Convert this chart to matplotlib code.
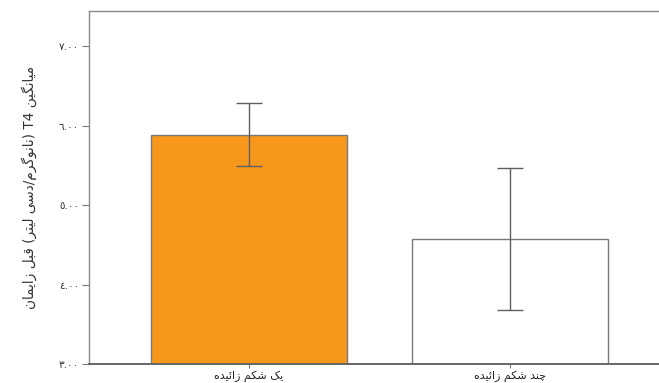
import matplotlib
matplotlib.use("Agg")
import matplotlib.pyplot as plt
import numpy as np

# --- data ---
groups = ["یک شکم زائیده", "چند شکم زائیده"]
means = [5.89, 4.576]
err = [0.40, 0.896]
bar_colors = ["#F7981D", "#FFFFFF"]
yticks = [3, 4, 5, 6, 7]
ytick_labels = ["٣.٠٠", "٤.٠٠", "٥.٠٠", "٦.٠٠", "٧.٠٠"]
ylabel = "میانگین T4 (نانوگرم/دسی لیتر) قبل زایمان"

# presentation forms: isolated, final, initial, medial (None = no left join)
FORMS = {
    "ا": ("\uFE8D", "\uFE8E", None, None),
    "ب": ("\uFE8F", "\uFE90", "\uFE91", "\uFE92"),
    "ت": ("\uFE95", "\uFE96", "\uFE97", "\uFE98"),
    "د": ("\uFEA9", "\uFEAA", None, None),
    "ر": ("\uFEAD", "\uFEAE", None, None),
    "ز": ("\uFEAF", "\uFEB0", None, None),
    "س": ("\uFEB1", "\uFEB2", "\uFEB3", "\uFEB4"),
    "ش": ("\uFEB5", "\uFEB6", "\uFEB7", "\uFEB8"),
    "ق": ("\uFED5", "\uFED6", "\uFED7", "\uFED8"),
    "ل": ("\uFEDD", "\uFEDE", "\uFEDF", "\uFEE0"),
    "م": ("\uFEE1", "\uFEE2", "\uFEE3", "\uFEE4"),
    "ن": ("\uFEE5", "\uFEE6", "\uFEE7", "\uFEE8"),
    "ه": ("\uFEE9", "\uFEEA", "\uFEEB", "\uFEEC"),
    "و": ("\uFEED", "\uFEEE", None, None),
    "ئ": ("\uFE89", "\uFE8A", "\uFE8B", "\uFE8C"),
    "ی": ("\uFBFC", "\uFBFD", "\uFBFE", "\uFBFF"),
    "ک": ("\uFB8E", "\uFB8F", "\uFB90", "\uFB91"),
    "گ": ("\uFB92", "\uFB93", "\uFB94", "\uFB95"),
    "چ": ("\uFB7A", "\uFB7B", "\uFB7C", "\uFB7D"),
}
MIRROR = {"(": ")", ")": "("}


def joins_left(c):
    return c in FORMS and FORMS[c][2] is not None


def shape(text):
    out = []
    for i, c in enumerate(text):
        if c not in FORMS:
            out.append(c)
            continue
        prev = text[i - 1] if i > 0 else ""
        nxt = text[i + 1] if i + 1 < len(text) else ""
        from_prev = joins_left(prev)
        to_next = joins_left(c) and nxt in FORMS
        iso, fin, ini, med = FORMS[c]
        if from_prev and to_next:
            out.append(med)
        elif from_prev:
            out.append(fin)
        elif to_next:
            out.append(ini)
        else:
            out.append(iso)
    return "".join(out)


def visual(text):
    # crude bidi: reverse everything, then put latin/digit runs back in order
    s = shape(text)[::-1]
    s = "".join(MIRROR.get(c, c) for c in s)
    res, run = [], ""
    for c in s:
        if c.isascii() and c.isalnum():
            run += c
        else:
            if run:
                res.append(run[::-1])
                run = ""
            res.append(c)
    if run:
        res.append(run[::-1])
    return "".join(res)


plt.rcParams["font.family"] = ["DejaVu Sans"]

fig = plt.figure(figsize=(6.59, 3.83), dpi=100)
ax = fig.add_axes([89 / 659, 1 - 364 / 383, 1 - 89 / 659, (364 - 11) / 383])

x = np.arange(len(groups))
ax.bar(x, means, width=0.751, bottom=0, color=bar_colors,
       edgecolor="#7a7a7a", linewidth=1.0, zorder=2)
ax.errorbar(x, means, yerr=err, fmt="none", ecolor="#5f5f5f",
            elinewidth=1.0, capsize=9.4, capthick=1.0, zorder=3)

ax.set_xlim(-0.612, 1.572)
ax.set_ylim(3.0, 7.446)
ax.set_yticks(yticks)
ax.set_yticklabels(ytick_labels, fontsize=7.5, color="#333333")
ax.set_xticks(x)
ax.set_xticklabels([visual(g) for g in groups], fontsize=8, color="#222222")
ax.tick_params(axis="y", length=5, width=0.8, color="#777777", pad=2)
ax.tick_params(axis="x", length=3, width=0.8, color="#777777", pad=2)

ax.set_ylabel(visual(ylabel), fontsize=9.8, color="#333333", labelpad=16)

ax.spines["right"].set_visible(False)
for side in ("left", "top"):
    ax.spines[side].set_color("#8a8a8a")
    ax.spines[side].set_linewidth(1.0)
ax.spines["bottom"].set_color("#666666")
ax.spines["bottom"].set_linewidth(1.4)

fig.savefig("out.png", dpi=100)
